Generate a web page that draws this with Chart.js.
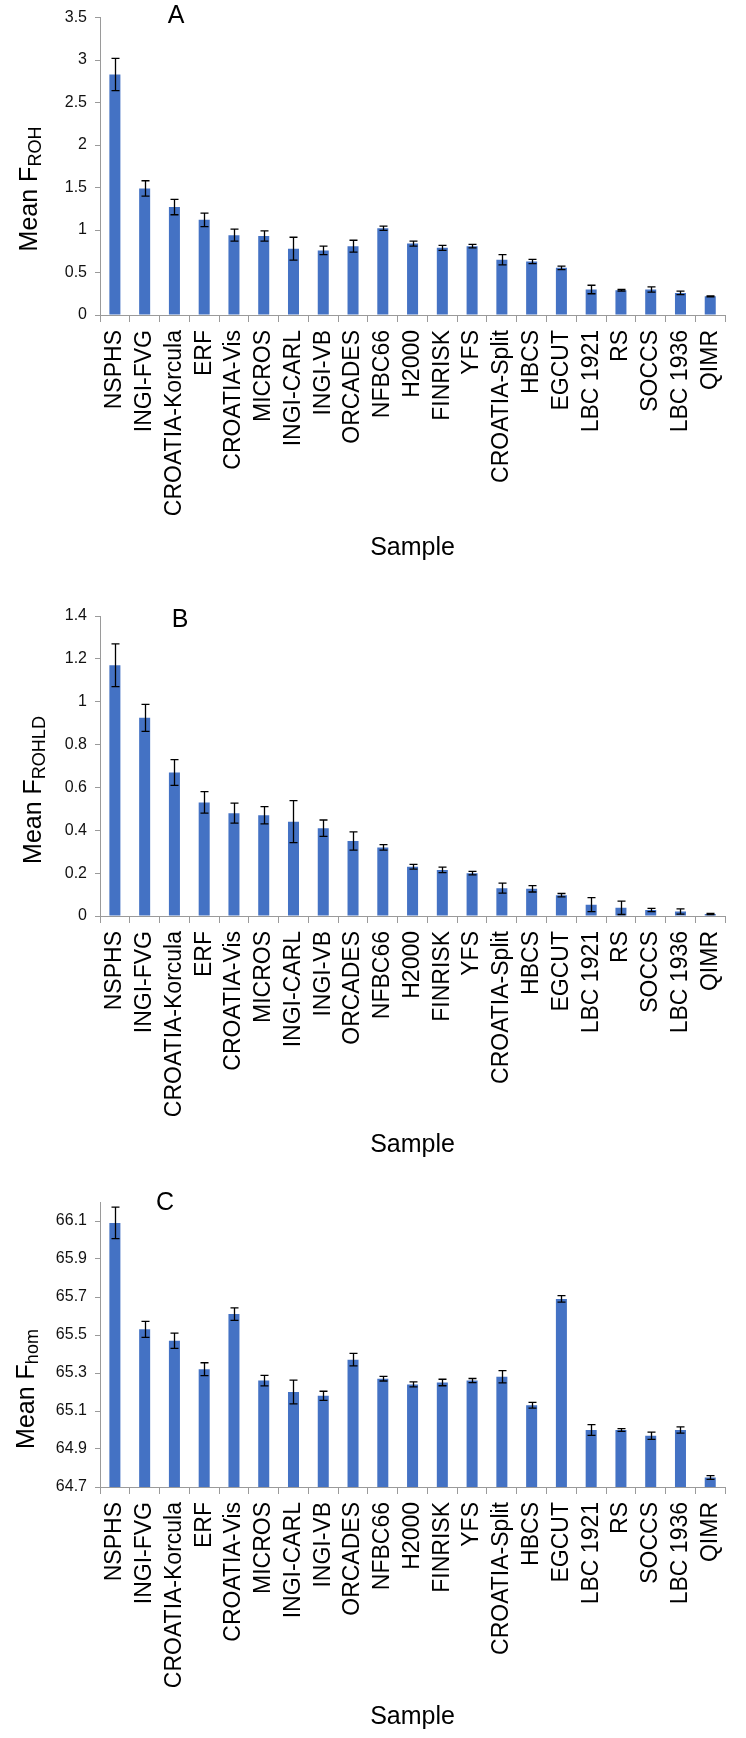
<!DOCTYPE html>
<html>
<head>
<meta charset="utf-8">
<script src="https://cdn.jsdelivr.net/npm/chart.js@4/dist/chart.umd.min.js"></script>
<style>
  html, body { margin: 0; padding: 0; background: #ffffff; }
  body { width: 746px; height: 1738px; position: relative; overflow: hidden; }
  .panel { position: absolute; left: 0; width: 746px; }
  canvas { display: block; }
</style>
</head>
<body>
<div class="panel" style="top:0px;height:580px"><canvas id="chartA" width="746" height="580"></canvas></div>
<div class="panel" style="top:580px;height:590px"><canvas id="chartB" width="746" height="590"></canvas></div>
<div class="panel" style="top:1170px;height:568px"><canvas id="chartC" width="746" height="568"></canvas></div>
<script>
// ---------- data ----------
const categories = ['NSPHS','INGI-FVG','CROATIA-Korcula','ERF','CROATIA-Vis','MICROS','INGI-CARL','INGI-VB','ORCADES','NFBC66','H2000','FINRISK','YFS','CROATIA-Split','HBCS','EGCUT','LBC 1921','RS','SOCCS','LBC 1936','QIMR'];

const valuesA = [2.83,1.49,1.27,1.12,0.94,0.93,0.78,0.76,0.81,1.02,0.84,0.79,0.81,0.65,0.63,0.555,0.30,0.29,0.30,0.26,0.22];
const errorsA = [0.19,0.09,0.09,0.08,0.07,0.06,0.135,0.05,0.07,0.025,0.03,0.03,0.02,0.06,0.025,0.02,0.05,0.01,0.03,0.02,0.005];

const valuesB = [1.17,0.925,0.67,0.53,0.48,0.47,0.44,0.41,0.35,0.32,0.23,0.215,0.20,0.13,0.127,0.097,0.053,0.038,0.028,0.021,0.009];
const errorsB = [0.10,0.063,0.06,0.05,0.047,0.04,0.098,0.038,0.043,0.013,0.011,0.013,0.008,0.023,0.015,0.008,0.033,0.031,0.008,0.012,0.003];

const valuesC = [66.09,65.53,65.47,65.32,65.61,65.26,65.20,65.18,65.37,65.27,65.24,65.25,65.26,65.28,65.13,65.69,65.00,65.00,64.97,65.00,64.75];
const errorsC = [0.083,0.042,0.04,0.034,0.033,0.028,0.063,0.024,0.033,0.012,0.013,0.017,0.011,0.032,0.015,0.017,0.028,0.007,0.019,0.016,0.01];

const ticksA = [0,0.5,1,1.5,2,2.5,3,3.5];
const ticksB = [0,0.2,0.4,0.6,0.8,1,1.2,1.4];
const ticksC = [64.7,64.9,65.1,65.3,65.5,65.7,65.9,66.1];

const panelLetters = ['A','B','C'];
const yTitleMain = 'Mean F';
const yTitleSubs = ['ROH','ROHLD','hom'];
const xTitle = 'Sample';

// ---------- styling ----------
const FONT = "'Liberation Sans', Arial, Helvetica, sans-serif";
const BAR_COLOR = '#4472C4';
const AXIS_COLOR = '#9a9a9a';

const errorBarPlugin = {
  id: 'errorBars',
  afterDatasetsDraw(chart) {
    const errs = chart.options.plugins.errorBars.errors;
    const meta = chart.getDatasetMeta(0);
    const ys = chart.scales.y;
    const vals = chart.data.datasets[0].data;
    const ctx = chart.ctx;
    ctx.save();
    ctx.strokeStyle = '#000000';
    ctx.lineWidth = 1.3;
    meta.data.forEach((bar, i) => {
      const x = Math.round(bar.x) + 0.5;
      const yt = ys.getPixelForValue(vals[i] + errs[i]);
      const yb = ys.getPixelForValue(vals[i] - errs[i]);
      const cap = 4;
      ctx.beginPath();
      ctx.moveTo(x, yt); ctx.lineTo(x, yb);
      ctx.moveTo(x - cap, yt); ctx.lineTo(x + cap, yt);
      ctx.moveTo(x - cap, yb); ctx.lineTo(x + cap, yb);
      ctx.stroke();
    });
    ctx.restore();
  }
};

const annotationPlugin = {
  id: 'panelText',
  afterDraw(chart) {
    const o = chart.options.plugins.panelText;
    const ctx = chart.ctx;
    ctx.save();
    ctx.fillStyle = '#000000';
    // panel letter
    ctx.font = '25px ' + FONT;
    ctx.textAlign = 'center';
    ctx.textBaseline = 'middle';
    ctx.fillText(o.letter, o.letterX, o.letterY);
    // rotated y title with subscript
    ctx.translate(o.titleX, o.titleY);
    ctx.rotate(-Math.PI / 2);
    const mainFont = '25px ' + FONT;
    const subFont = '18px ' + FONT;
    ctx.font = mainFont;
    const w1 = ctx.measureText(yTitleMain).width;
    ctx.font = subFont;
    const w2 = ctx.measureText(o.sub).width;
    const total = w1 + w2;
    ctx.textAlign = 'left';
    ctx.textBaseline = 'alphabetic';
    ctx.font = mainFont;
    ctx.fillText(yTitleMain, -total / 2, 0);
    ctx.font = subFont;
    ctx.fillText(o.sub, -total / 2 + w1, 4);
    ctx.restore();
  }
};

function fmt(v) { return String(Number(v.toFixed(2))); }

function makeChart(id, values, errors, tickVals, ymin, ymax, cfg) {
  return new Chart(document.getElementById(id), {
    type: 'bar',
    data: {
      labels: categories,
      datasets: [{
        data: values,
        backgroundColor: BAR_COLOR,
        borderWidth: 0,
        categoryPercentage: 1.0,
        barPercentage: 0.37
      }]
    },
    options: {
      responsive: false,
      animation: false,
      events: [],
      layout: { padding: { top: cfg.top, right: 6.5, left: 0, bottom: 0 } },
      plugins: {
        legend: { display: false },
        tooltip: { enabled: false },
        errorBars: { errors: errors },
        panelText: cfg.text
      },
      scales: {
        x: {
          offset: true,
          grid: { offset: true, drawOnChartArea: false, drawTicks: true, tickLength: 7, color: AXIS_COLOR, lineWidth: 1 },
          border: { display: true, color: AXIS_COLOR, width: 1 },
          ticks: {
            autoSkip: false, minRotation: 90, maxRotation: 90, padding: 8,
            color: '#000000', font: { family: FONT, size: 23 }
          },
          title: {
            display: true, text: xTitle, color: '#000000',
            font: { family: FONT, size: 25, lineHeight: 1.2 },
            padding: { top: 0, bottom: cfg.titlePad }
          },
          afterFit(scale) { scale.height = cfg.xHeight; }
        },
        y: {
          min: ymin, max: ymax,
          grid: { drawOnChartArea: false, drawTicks: true, tickLength: 5, color: AXIS_COLOR, lineWidth: 1 },
          border: { display: true, color: AXIS_COLOR, width: 1 },
          ticks: {
            padding: 8, color: '#111111', font: { family: FONT, size: 16 },
            callback: (v) => fmt(v)
          },
          afterBuildTicks(scale) { scale.ticks = tickVals.map(v => ({ value: v })); },
          afterFit(scale) { scale.width = 100; }
        }
      }
    },
    plugins: [errorBarPlugin, annotationPlugin]
  });
}

makeChart('chartA', valuesA, errorsA, ticksA, 0, 3.5, {
  top: 13, xHeight: 265, titlePad: 17,
  text: { letter: panelLetters[0], letterX: 176, letterY: 16, sub: yTitleSubs[0], titleX: 37, titleY: 189 }
});
makeChart('chartB', valuesB, errorsB, ticksB, 0, 1.4, {
  top: 36, xHeight: 254, titlePad: 10,
  text: { letter: panelLetters[1], letterX: 180, letterY: 40, sub: yTitleSubs[1], titleX: 41, titleY: 210 }
});
makeChart('chartC', valuesC, errorsC, ticksC, 64.7, 66.2, {
  top: 32, xHeight: 251, titlePad: 6,
  text: { letter: panelLetters[2], letterX: 165, letterY: 33, sub: yTitleSubs[2], titleX: 34, titleY: 219 }
});
</script>
</body>
</html>
